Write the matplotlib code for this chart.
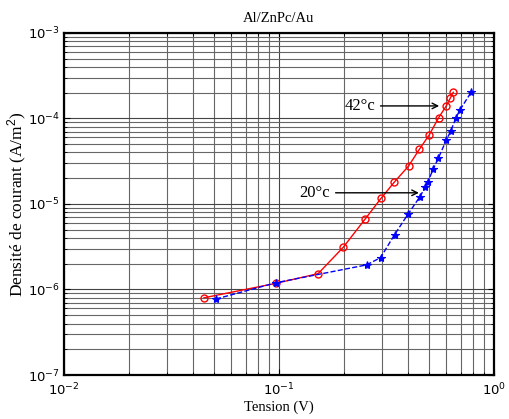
import matplotlib
matplotlib.use("Agg")
import matplotlib.pyplot as plt

plt.rcParams['mathtext.fontset'] = 'custom'
plt.rcParams['mathtext.rm'] = 'Liberation Sans'
plt.rcParams['mathtext.it'] = 'Liberation Sans:italic'

# data
v_42 = [0.0448, 0.0968, 0.152, 0.199, 0.251, 0.299, 0.344, 0.401, 0.450,
        0.500, 0.553, 0.600, 0.626, 0.647]
j_42 = [8.0e-7, 1.18e-6, 1.53e-6, 3.11e-6, 6.6e-6, 1.17e-5, 1.80e-5, 2.78e-5,
        4.36e-5, 6.41e-5, 1.02e-4, 1.40e-4, 1.72e-4, 2.02e-4]

v_20 = [0.0509, 0.097, 0.256, 0.297, 0.345, 0.398, 0.453, 0.479, 0.493,
        0.522, 0.551, 0.600, 0.629, 0.664, 0.695, 0.783]
j_20 = [7.74e-7, 1.2e-6, 1.94e-6, 2.36e-6, 4.38e-6, 7.57e-6, 1.22e-5, 1.57e-5,
        1.82e-5, 2.56e-5, 3.42e-5, 5.56e-5, 7.08e-5, 1.00e-4, 1.26e-4, 2.02e-4]

labels = ['42°c', '20°c']
arrow_42 = ((0.288, 1.40e-4), (0.573, 1.40e-4))
arrow_20 = ((0.178, 1.35e-5), (0.461, 1.35e-5))

fig = plt.figure(figsize=(5.1, 4.19), dpi=100)
ax = fig.add_axes([0.1255, 0.105, 0.843, 0.8165])

ax.plot(v_42, j_42, '-o', color='red', lw=1, ms=5, mfc='none', mew=1)
ax.plot(v_20, j_20, '--*', color='blue', lw=1, ms=6, mew=0.8)

ax.set_xscale('log')
ax.set_yscale('log')
ax.set_xlim(1e-2, 1)
ax.set_ylim(1e-7, 1e-3)

ax.grid(True, which='major', color='#444444', lw=0.8)
ax.grid(True, which='minor', color='#666666', lw=0.8)
ax.set_axisbelow(True)

ax.tick_params(which='both', direction='in', top=True, right=True,
               labelsize=9.5)
ax.tick_params(axis='x', pad=5)
ax.tick_params(axis='y', pad=3)
ax.tick_params(which='major', length=4)
ax.tick_params(which='minor', length=2)
for sp in ax.spines.values():
    sp.set_linewidth(1.6)

for (start, end), lab in zip([arrow_42, arrow_20], labels):
    ax.annotate('', xy=end, xytext=start,
                arrowprops=dict(arrowstyle='->', color='black', lw=1))
    ax.text(start[0] * 0.97, start[1], lab, ha='right', va='center',
            fontsize=12, family='Liberation Serif')

ax.set_title('Al/ZnPc/Au', fontsize=10.5, family='Liberation Serif', pad=8)
ax.set_xlabel('Tension (V)', fontsize=10.5, family='Liberation Serif')
ax.set_ylabel('Densité de courant (A/m$^2$)', fontsize=12.5,
              family='Liberation Serif')
ax.xaxis.set_label_coords(0.5, -0.074)
ax.yaxis.set_label_coords(-0.082, 0.5)

fig.savefig('out.png', dpi=100)
